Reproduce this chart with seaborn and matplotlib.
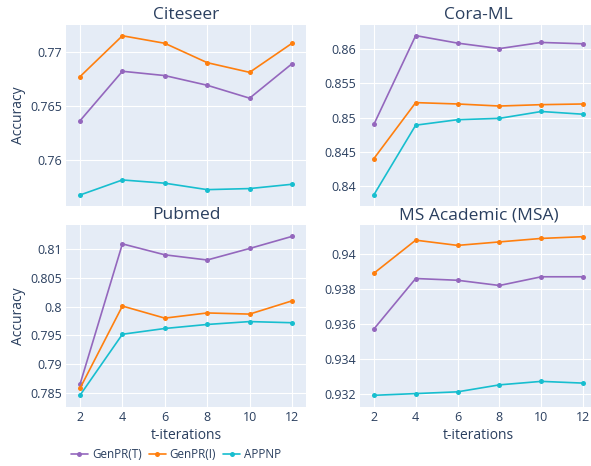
import pandas as pd
import seaborn as sns
import matplotlib.pyplot as plt
from matplotlib import ticker

# t-iterations on the x axis
iters = [2, 4, 6, 8, 10, 12]
methods = ['GenPR(T)', 'GenPR(I)', 'APPNP']

# accuracy
citeseer_t = [0.7636, 0.7682, 0.7678, 0.7669, 0.7657, 0.7689]
citeseer_i = [0.7677, 0.7715, 0.7708, 0.7690, 0.7681, 0.7708]
citeseer_a = [0.7567, 0.7581, 0.7578, 0.7572, 0.7573, 0.7577]

cora_t = [0.8490, 0.8620, 0.8609, 0.8601, 0.8610, 0.8608]
cora_i = [0.8440, 0.8522, 0.8520, 0.8517, 0.8519, 0.8520]
cora_a = [0.8387, 0.8489, 0.8497, 0.8499, 0.8509, 0.8505]

pubmed_t = [0.7865, 0.8109, 0.8090, 0.8081, 0.8101, 0.8122]
pubmed_i = [0.7858, 0.8001, 0.7980, 0.7989, 0.7987, 0.8010]
pubmed_a = [0.7846, 0.7952, 0.7962, 0.7969, 0.7974, 0.7972]

msa_t = [0.9357, 0.9386, 0.9385, 0.9382, 0.9387, 0.9387]
msa_i = [0.9389, 0.9408, 0.9405, 0.9407, 0.9409, 0.9410]
msa_a = [0.9319, 0.9320, 0.9321, 0.9325, 0.9327, 0.9326]

titles = ['Citeseer', 'Cora-ML', 'Pubmed', 'MS Academic (MSA)']
series = [(citeseer_t, citeseer_i, citeseer_a),
          (cora_t, cora_i, cora_a),
          (pubmed_t, pubmed_i, pubmed_a),
          (msa_t, msa_i, msa_a)]

palette = {'GenPR(T)': '#9467bd', 'GenPR(I)': '#ff7f0e', 'APPNP': '#17becf'}
txt = '#2a3f5f'

sns.set_theme(style='darkgrid', rc={'axes.facecolor': '#E5ECF6',
                                    'grid.color': 'white',
                                    'grid.linewidth': 0.8})
plt.rcParams['font.family'] = ['Open Sans', 'DejaVu Sans']

fig = plt.figure(figsize=(5.91, 4.66), dpi=100)
W, H = 591, 466
# panel boxes in pixels (left, top, right, bottom)
boxes = [(66, 25, 306, 206), (360, 25, 597, 206),
         (66, 225, 306, 407), (360, 225, 597, 407)]
ylims = [(0.75568, 0.7725), (0.83708, 0.86355), (0.78256, 0.81418), (0.93123, 0.94167)]
ysteps = [0.005, 0.005, 0.005, 0.002]

fmt = ticker.FuncFormatter(lambda v, p: f'{v:.4f}'.rstrip('0').rstrip('.'))

for k, (l, t, r, b) in enumerate(boxes):
    ax = fig.add_axes([l / W, 1 - b / H, (r - l) / W, (b - t) / H])
    rows = []
    for m, vals in zip(methods, series[k]):
        for x, v in zip(iters, vals):
            rows.append({'t': x, 'acc': v, 'method': m})
    df = pd.DataFrame(rows)
    sns.lineplot(data=df, x='t', y='acc', hue='method', palette=palette,
                 marker='o', markersize=3.6, markeredgewidth=0, linewidth=1.2,
                 legend=(k == 2), ax=ax)
    ax.set_xlim(1.34, 12.66)
    ax.set_ylim(*ylims[k])
    ax.xaxis.set_major_locator(ticker.FixedLocator(iters))
    ax.yaxis.set_major_locator(ticker.MultipleLocator(ysteps[k]))
    ax.yaxis.set_major_formatter(fmt)
    ax.tick_params(length=0, pad=3, labelsize=9, colors=txt)
    for s in ax.spines.values():
        s.set_visible(False)
    if k < 2:
        ax.set_xticklabels([])
        ax.set_xlabel('')
    else:
        ax.set_xlabel('t-iterations', fontsize=10, color=txt)
        ax.xaxis.set_label_coords(0.5, -0.155)
        ax.xaxis.label.set_va('center')
    if k % 2 == 0:
        ax.set_ylabel('Accuracy', fontsize=10, color=txt)
        ax.yaxis.set_label_coords(-0.2, 0.5)
        ax.yaxis.label.set_va('center')
    else:
        ax.set_ylabel('')
    cx = ((l + min(r, 597)) / 2) / W
    ty = 15 if k < 2 else 215
    fig.text(cx, 1 - ty / H, titles[k], ha='center', va='center',
             fontsize=12.5, color=txt)
    if k == 2:
        handles, labels = ax.get_legend_handles_labels()
        ax.get_legend().remove()

fig.legend(handles, labels, loc='center left', bbox_to_anchor=(0.112, 1 - 455 / H),
           ncol=3, frameon=False, fontsize=8.4, handlelength=1.45,
           handletextpad=0.35, columnspacing=0.6, labelcolor=txt,
           borderaxespad=0)

plt.savefig('out.png', dpi=100)
